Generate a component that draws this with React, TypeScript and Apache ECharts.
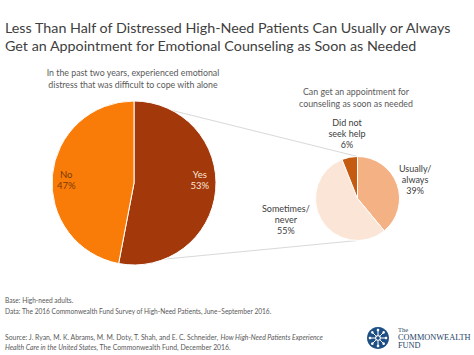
import React, { useEffect, useRef } from "react";
import * as echarts from "echarts";

const titleLines = [
  "Less Than Half of Distressed High-Need Patients Can Usually or Always",
  "Get an Appointment for Emotional Counseling as Soon as Needed",
];
const leftSubtitle = [
  "In the past two years, experienced emotional",
  "distress that was difficult to cope with alone",
];
const rightSubtitle = ["Can get an appointment for", "counseling as soon as needed"];

const distressCategories = ["Yes", "No"];
const distressValues = [53, 47];
const distressColors = ["#A3390B", "#FA7C08"];

const appointmentCategories = ["Usually/\nalways", "Sometimes/\nnever", "Did not\nseek help"];
const appointmentValues = [39, 55, 6];
const appointmentColors = ["#F4B183", "#FBE5D6", "#C55A11"];

const BIG = { cx: 134, cy: 183, r: 82 };
const SMALL = { cx: 357.5, cy: 198.5, r: 42 };

const bigLabelOffsets = [
  [22, -7],
  [-24, 1],
];
const smallLabelOffsets = [
  [35, -11],
  [-51, 9],
  [-6, -41],
];

const FONT = "Lato, 'Open Sans', sans-serif";

export default function App() {
  const ref = useRef<HTMLDivElement>(null);
  useEffect(() => {
    if (!ref.current) return;
    const chart = echarts.init(ref.current, undefined, { renderer: "svg" });

    const total = distressValues.reduce((a, b) => a + b, 0);
    const boundaryAngle = (distressValues[0] / total) * 2 * Math.PI;
    const bx = BIG.cx + BIG.r * Math.sin(boundaryAngle);
    const by = BIG.cy - BIG.r * Math.cos(boundaryAngle);

    const logoX = 378;
    const logoY = 338;
    const logoChildren: any[] = [
      { type: "circle", shape: { cx: logoX, cy: logoY, r: 11 }, style: { fill: "#1D4F85" } },
    ];
    for (let i = 0; i < 8; i++) {
      const a = (i * Math.PI) / 4;
      const x2 = logoX + 8 * Math.cos(a);
      const y2 = logoY + 8 * Math.sin(a);
      logoChildren.push({
        type: "line",
        shape: { x1: logoX + 3 * Math.cos(a), y1: logoY + 3 * Math.sin(a), x2, y2 },
        style: { stroke: "#ffffff", lineWidth: 1 },
      });
      logoChildren.push({ type: "circle", shape: { cx: x2, cy: y2, r: 1.3 }, style: { fill: "#ffffff" } });
    }
    logoChildren.push({ type: "ring", shape: { cx: logoX, cy: logoY, r: 3, r0: 1.8 }, style: { fill: "#ffffff" } });

    chart.setOption({
      animation: false,
      title: [
        {
          text: titleLines.join("\n"),
          left: 5,
          top: 18,
          padding: 0,
          textStyle: { fontFamily: FONT, fontSize: 14.3, fontWeight: "normal", color: "#404040", lineHeight: 18.5 },
        },
        {
          text: leftSubtitle.join("\n"),
          left: 133,
          top: 67,
          padding: 0,
          textAlign: "center",
          textStyle: { fontFamily: FONT, fontSize: 8.8, fontWeight: "normal", color: "#595959", lineHeight: 11.5 },
        },
        {
          text: rightSubtitle.join("\n"),
          left: 356,
          top: 85,
          padding: 0,
          textAlign: "center",
          textStyle: { fontFamily: FONT, fontSize: 8.8, fontWeight: "normal", color: "#595959", lineHeight: 12 },
        },
        {
          text: "Base: High-need adults.\nData: The 2016 Commonwealth Fund Survey of High-Need Patients, June\u2013September 2016.",
          left: 5,
          top: 295,
          padding: 0,
          textStyle: { fontFamily: FONT, fontSize: 6.6, fontWeight: "normal", color: "#595959", lineHeight: 10.5 },
        },
        {
          text:
            "Source: J. Ryan, M. K. Abrams, M. M. Doty, T. Shah, and E. C. Schneider, {i|How High-Need Patients Experience}\n{i|Health Care in the United States,} The Commonwealth Fund, December 2016.",
          left: 5,
          top: 332,
          padding: 0,
          textStyle: {
            fontFamily: FONT,
            fontSize: 6.85,
            fontWeight: "normal",
            color: "#595959",
            lineHeight: 10,
            rich: { i: { fontFamily: FONT, fontSize: 6.85, fontStyle: "italic", color: "#595959", lineHeight: 10 } },
          },
        },
        {
          text: "The",
          left: 398,
          top: 326,
          padding: 0,
          textStyle: { fontFamily: "'Liberation Serif', serif", fontSize: 6.5, fontWeight: "normal", color: "#1F3F66" },
        },
        {
          text: "COMMONWEALTH\nFUND",
          left: 398,
          top: 333,
          padding: 0,
          textStyle: { fontFamily: "'Liberation Serif', serif", fontSize: 8.3, fontWeight: "normal", color: "#1F3F66", lineHeight: 8.5 },
        },
      ],
      graphic: [
        {
          type: "line",
          z: 0,
          shape: { x1: BIG.cx, y1: BIG.cy - BIG.r, x2: SMALL.cx, y2: SMALL.cy - SMALL.r },
          style: { stroke: "#D9D9D9", lineWidth: 1 },
        },
        {
          type: "line",
          z: 0,
          shape: { x1: bx, y1: by, x2: SMALL.cx, y2: SMALL.cy + SMALL.r },
          style: { stroke: "#D9D9D9", lineWidth: 1 },
        },
        { type: "group", children: logoChildren },
      ],
      series: [
        {
          type: "pie",
          center: [BIG.cx, BIG.cy],
          radius: [0, BIG.r],
          startAngle: 90,
          clockwise: true,
          silent: true,
          itemStyle: { borderColor: "#ffffff", borderWidth: 1 },
          label: {
            show: true,
            position: "inside",
            formatter: "{b}\n{c}%",
            fontFamily: FONT,
            fontSize: 9.5,
            lineHeight: 11,
          },
          labelLine: { show: false },
          labelLayout: (p: any) => ({ dx: bigLabelOffsets[p.dataIndex][0], dy: bigLabelOffsets[p.dataIndex][1] }),
          data: distressCategories.map((name, i) => ({
            name,
            value: distressValues[i],
            itemStyle: { color: distressColors[i] },
            label: { color: i === 0 ? "#FBE5D6" : "#7A3A06" },
          })),
        },
        {
          type: "pie",
          center: [SMALL.cx, SMALL.cy],
          radius: [0, SMALL.r],
          startAngle: 90,
          clockwise: true,
          silent: true,
          itemStyle: { borderColor: "#ffffff", borderWidth: 1 },
          label: {
            show: true,
            position: "inside",
            formatter: "{b}\n{c}%",
            fontFamily: FONT,
            fontSize: 9,
            lineHeight: 11,
            color: "#404040",
          },
          labelLine: { show: false },
          labelLayout: (p: any) => ({ dx: smallLabelOffsets[p.dataIndex][0], dy: smallLabelOffsets[p.dataIndex][1] }),
          data: appointmentCategories.map((name, i) => ({
            name,
            value: appointmentValues[i],
            itemStyle: { color: appointmentColors[i] },
          })),
        },
      ],
    });
    return () => chart.dispose();
  }, []);
  return (
    <div
      ref={ref}
      style={{ position: "fixed", left: 0, top: 0, width: 474, height: 355, background: "#ffffff" }}
    />
  );
}
